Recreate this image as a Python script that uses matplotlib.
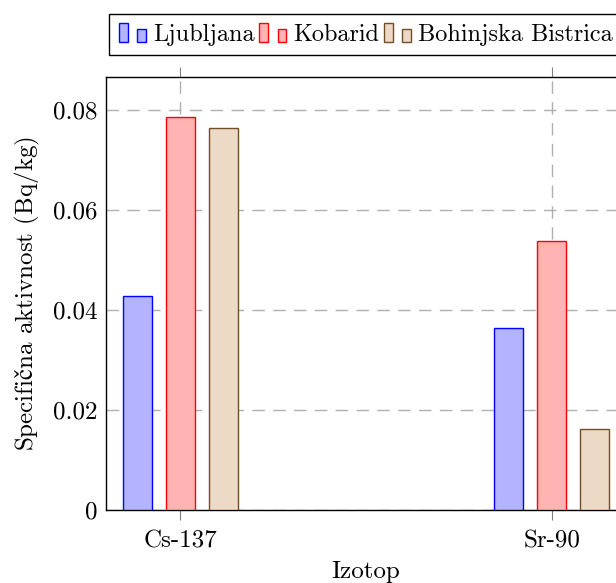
import matplotlib
matplotlib.use("Agg")
import matplotlib.pyplot as plt
from matplotlib.patches import Rectangle
from matplotlib.legend_handler import HandlerBase
import numpy as np

plt.rcParams["font.family"] = ["cmr10", "DejaVu Serif"]
plt.rcParams["axes.formatter.use_mathtext"] = True
plt.rcParams["mathtext.fontset"] = "cm"

izotopi = ["Cs-137", "Sr-90"]
kraji = ["Ljubljana", "Kobarid", "Bohinjska Bistrica"]
ljubljana = [0.0428, 0.0364]
kobarid = [0.0786, 0.0538]
bohinj = [0.0764, 0.0162]
yticks = [0, 0.02, 0.04, 0.06, 0.08]
ytick_labels = ["0", "0.02", "0.04", "0.06", "0.08"]

fills = ["#b3b3ff", "#ffb3b3", "#ecd9c6"]
edges = ["#0000ff", "#ff0000", "#734d26"]
fs = 18


class DoubleBar(HandlerBase):
    # pgfplots ybar legend: two little bars
    def create_artists(self, legend, orig, xd, yd, w, h, fsz, trans):
        bw = w * 0.3
        r1 = Rectangle((xd, yd - 0.1 * h), bw, h * 1.15, facecolor=orig.get_facecolor(),
                       edgecolor=orig.get_edgecolor(), lw=1, transform=trans)
        r2 = Rectangle((xd + w * 0.62, yd - 0.1 * h), bw, h * 0.8, facecolor=orig.get_facecolor(),
                       edgecolor=orig.get_edgecolor(), lw=1, transform=trans)
        return [r1, r2]


fig = plt.figure(figsize=(6.16, 5.83), dpi=100)
ax = fig.add_axes([106 / 616, 73 / 583, 520 / 616, 433 / 583])

x = np.arange(len(izotopi))
w = 0.078
off = 0.1156
handles = []
for i, (vals, name) in enumerate(zip([ljubljana, kobarid, bohinj], kraji)):
    b = ax.bar(x + (i - 1) * off, vals, w, color=fills[i], edgecolor=edges[i],
               linewidth=1, label=name, zorder=3)
    handles.append(b.patches[0])

ax.set_xlim(-0.2, 1.2)
ax.set_ylim(0, 0.0866)
ax.set_xticks(x)
ax.set_xticklabels(izotopi, fontsize=fs)
ax.set_yticks(yticks)
ax.set_yticklabels(ytick_labels, fontsize=fs)
ax.tick_params(axis="x", top=True, direction="out", length=7.5, color="gray", width=0.8, pad=7)
ax.tick_params(axis="y", length=0, pad=6)
ax.grid(True, color="#b0b0b0", linestyle=(0, (9, 6)), linewidth=1, zorder=0)
for s in ax.spines.values():
    s.set_linewidth(1)

ax.set_xlabel("Izotop", fontsize=fs, labelpad=6)
# cmr10 nima znaka č, zato ga narišemo s STIX
ax.set_ylabel("Specifi$\\mathrm{č}$na aktivnost (Bq/kg)", fontsize=fs,
              labelpad=8, math_fontfamily="stix")

ax.legend(handles, kraji, handler_map={h: DoubleBar() for h in handles},
          loc="lower center", bbox_to_anchor=(0.5, 1.05), ncol=3, fontsize=17.5,
          frameon=True, fancybox=False, edgecolor="black", framealpha=1,
          handlelength=1.2, handletextpad=0.2, columnspacing=0.2, borderpad=0.4,
          borderaxespad=0)

fig.savefig("out.png", dpi=100)
